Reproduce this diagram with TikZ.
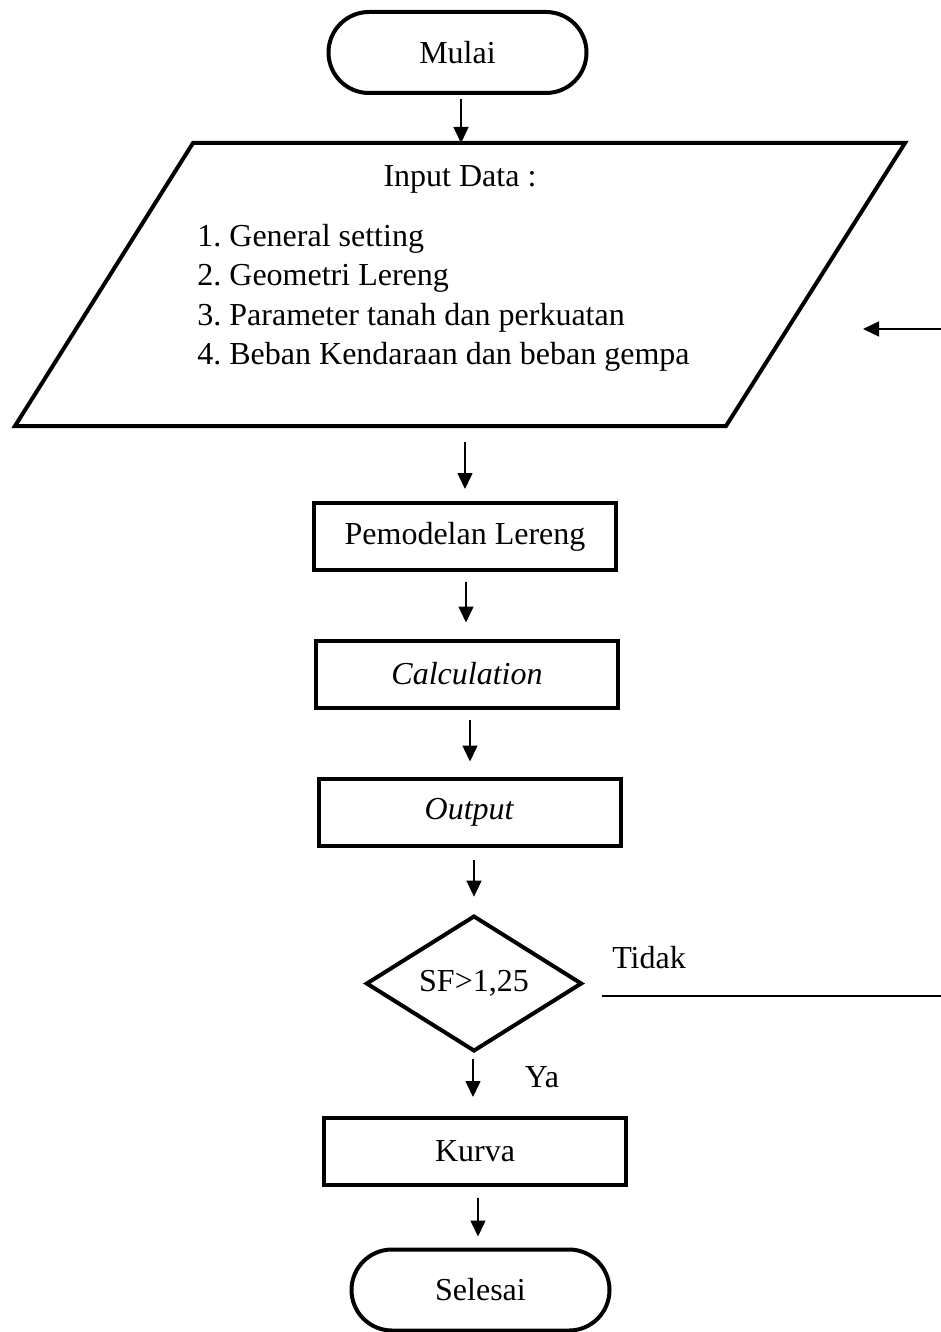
\documentclass[tikz,border=0pt]{standalone}
\usepackage{fontspec}
\setmainfont{Liberation Serif}
\usetikzlibrary{shapes.geometric,shapes.misc,arrows.meta}

\tikzset{
  proc/.style={draw, line width=2pt, minimum width=151pt, minimum height=33.5pt, inner sep=0pt},
  term/.style={draw, rounded rectangle, line width=2pt, minimum width=129pt, minimum height=40.5pt, inner sep=0pt},
  decide/.style={draw, diamond, line width=2pt, minimum width=108pt, minimum height=63.5pt, inner sep=0pt},
  arr/.style={-{Triangle[length=8pt,width=7.5pt]}, line width=0.75pt},
  label/.style={inner sep=0pt},
}

\begin{document}
\frenchspacing
\begin{tikzpicture}[x=0.5pt, y=-0.5pt, font=\fontsize{16}{19.65}\selectfont]
				\useasboundingbox (0,0) rectangle (941,1332);
				% terminals and boxes
				\node[term] (mulai) at (457.5,52.5) {Mulai};
				\node[proc] (model) at (465,536.5) {Pemodelan Lereng};
				\node[proc] (calc) at (467,674) {\textit{Calculation}};
				\node[proc] (output) at (469.5,812) {\textit{Output}};
				\node[decide] (sf) at (474,983.5) {SF>1,25};
				\node[proc] (kurva) at (475,1151.5) {Kurva};
				\node[term] (selesai) at (480.5,1290) {Selesai};
				% input data parallelogram
				\draw[line width=2pt, line join=miter] (193,143) -- (905,143) -- (726,426) -- (15,426) -- cycle;
				\coordinate (intop) at (461,143);
				\coordinate (inbot) at (465,426);
				\node[label] (title) at (460,179) {Input Data :};
				\node[label, anchor=west, align=left] (list) at (197,298) {1. General setting\\2. Geometri Lereng\\3. Parameter tanah dan perkuatan\\4. Beban Kendaraan dan beban gempa};
				% loop back
				\coordinate (backin) at (863,329);
				\coordinate (backout) at (941,329);
				\coordinate (nostart) at (602,996);
				\coordinate (noend) at (941,996);
				\node[label] (tidak) at (649,958) {Tidak};
				\node[label] (ya) at (542,1077) {Ya};
				% connectors
				\draw[arr, shorten <=2pt] (mulai.south -| intop) -- (intop);
				\draw[arr, shorten <=8pt, shorten >=6pt] (inbot) -- (inbot |- model.north);
				\draw[arr, shorten <=5pt, shorten >=8pt] (model.south -| 466,0) -- (calc.north -| 466,0);
				\draw[arr, shorten <=5pt, shorten >=7.5pt] (calc.south -| 470,0) -- (output.north -| 470,0);
				\draw[arr, shorten <=6pt, shorten >=8.5pt] (output.south -| 474,0) -- (sf.north);
				\draw[arr, shorten <=3pt, shorten >=9.5pt] (sf.south -| 473,0) -- (kurva.north -| 473,0);
				\draw[arr, shorten <=5.5pt, shorten >=5.5pt] (kurva.south -| 478,0) -- (selesai.north -| 478,0);
				\draw[arr] (backout) -- (backin);
				\draw[line width=0.75pt] (nostart) -- (noend);
			\end{tikzpicture}
\end{document}
